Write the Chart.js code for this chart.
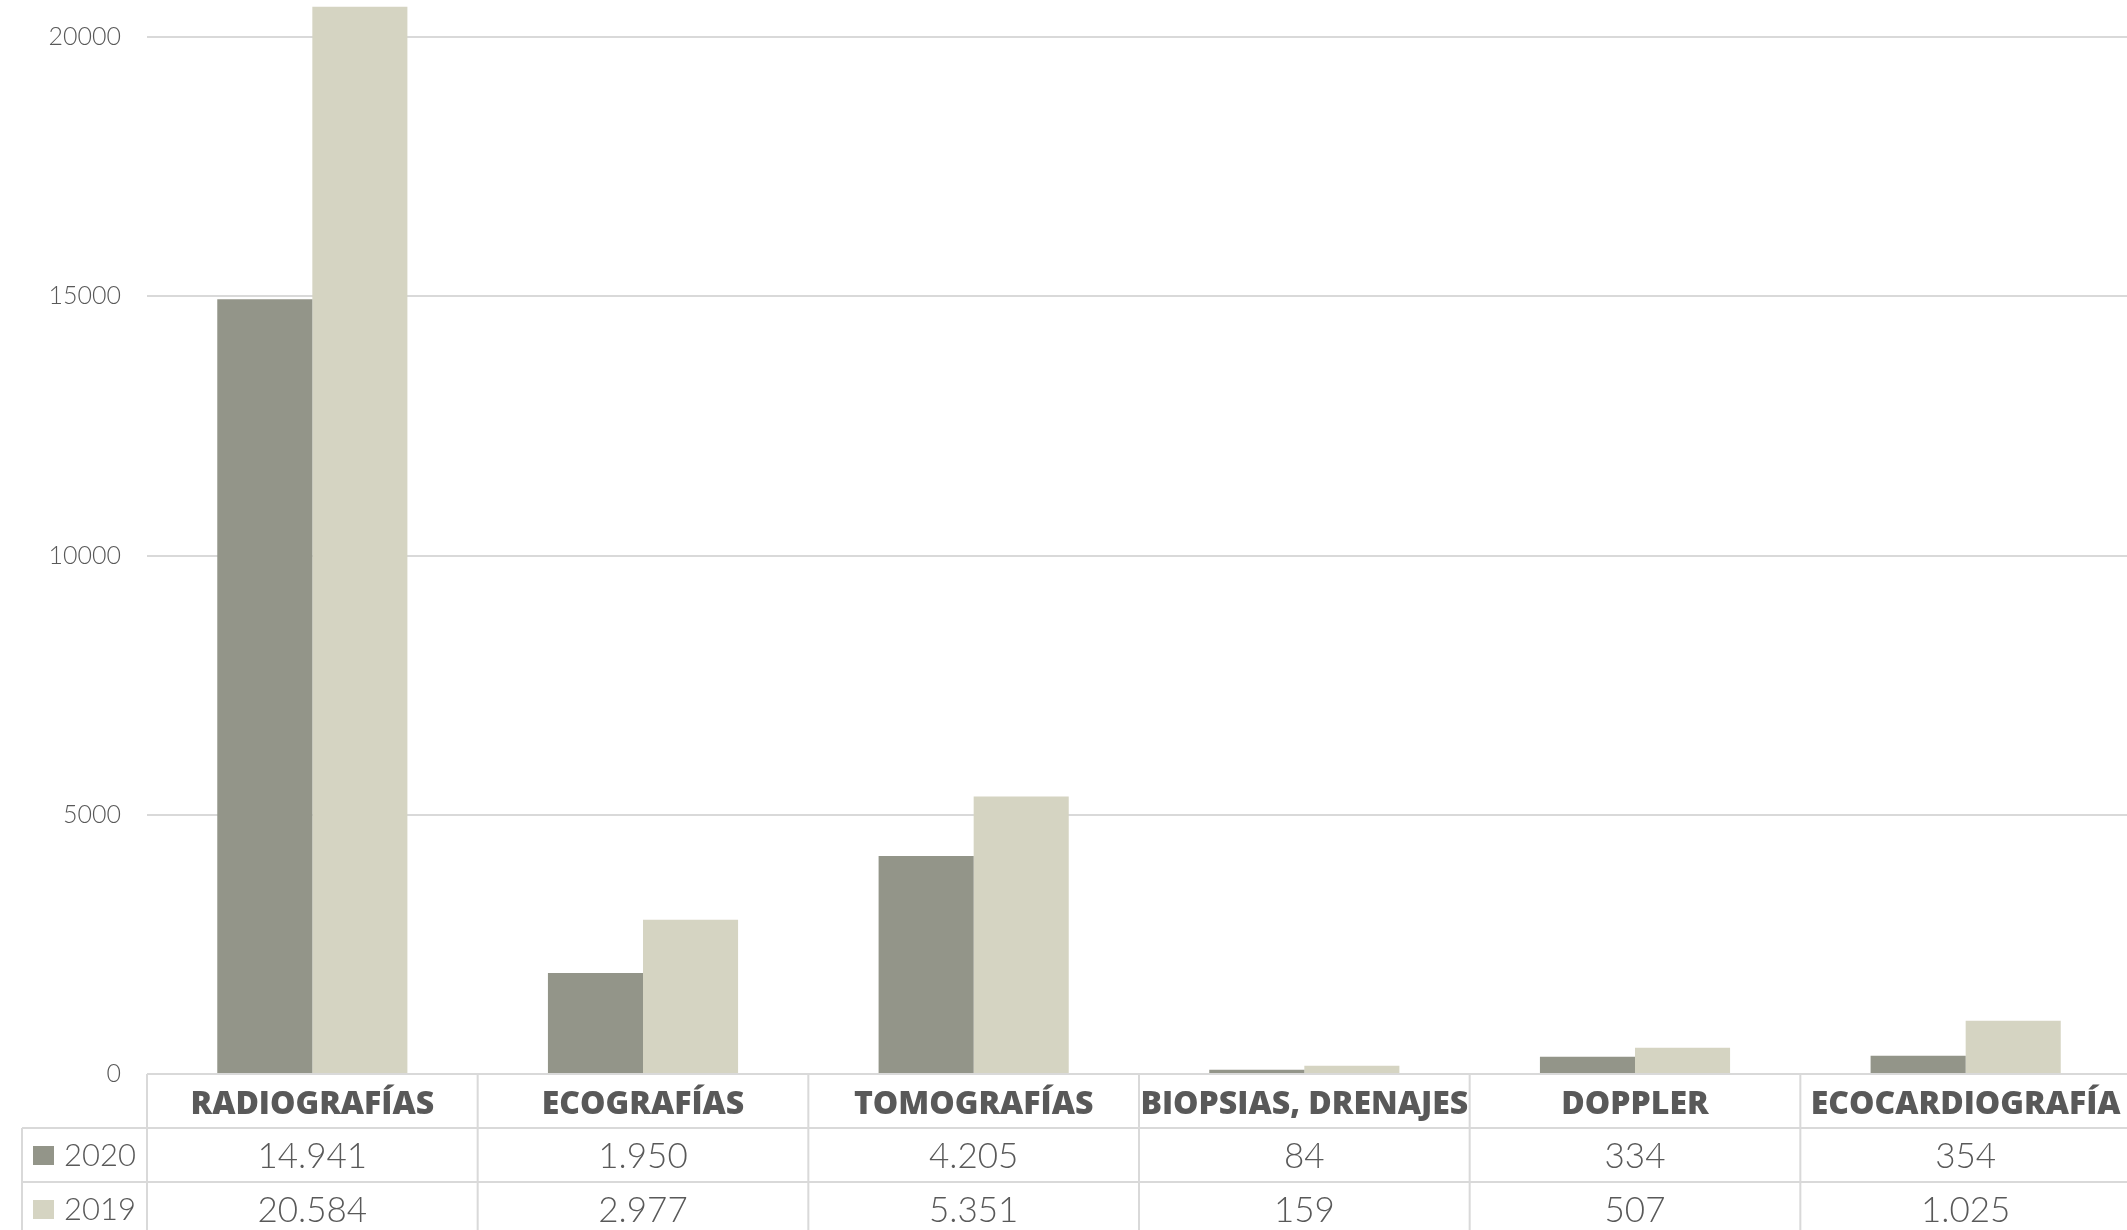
<!DOCTYPE html>
<html>
<head>
<meta charset="utf-8">
<script src="https://cdn.jsdelivr.net/npm/chart.js@4.4.0/dist/chart.umd.min.js"></script>
<style>
    html, body { margin: 0; padding: 0; background: #fff; overflow: hidden; }
    #wrap { width: 2131px; height: 1230px; position: relative; }
</style>
</head>
<body>
<div id="wrap"><canvas id="estudiosChart" width="2131" height="1230"></canvas></div>
<script>
// Datos del gráfico
const categories = ['RADIOGRAFÍAS', 'ECOGRAFÍAS', 'TOMOGRAFÍAS', 'BIOPSIAS, DRENAJES', 'DOPPLER', 'ECOCARDIOGRAFÍA'];
const seriesNames = ['2020', '2019'];
const values2020 = [14941, 1950, 4205, 84, 334, 354];
const values2019 = [20584, 2977, 5351, 159, 507, 1025];
const yTicks = [0, 5000, 10000, 15000, 20000];

const colors = ['#939589', '#d5d4c2'];
const textColor = '#595959';
const lineColor = '#d9d9d9';

// 14941 -> "14.941"
function formatNumber(n) {
    return n.toString().replace(/\B(?=(\d{3})+(?!\d))/g, '.');
}

// Tabla de datos debajo del gráfico
const dataTable = {
    id: 'dataTable',
    afterDraw(chart) {
        const ctx = chart.ctx;
        const area = chart.chartArea;
        const x = chart.scales.x;
        const top = area.bottom;
        const rowH = 54;
        const bottom = chart.height;
        const colW = x.width / categories.length;
        const legendLeft = 22;

        ctx.save();
        ctx.strokeStyle = lineColor;
        ctx.lineWidth = 2;
        ctx.beginPath();
        ctx.moveTo(area.left, top);
        ctx.lineTo(area.right, top);
        for (let r = 1; r <= 2; r++) {
            ctx.moveTo(legendLeft, top + r * rowH);
            ctx.lineTo(area.right, top + r * rowH);
        }
        for (let k = 0; k <= categories.length; k++) {
            const px = area.left + k * colW;
            ctx.moveTo(px, top);
            ctx.lineTo(px, bottom);
        }
        ctx.moveTo(legendLeft, top + rowH);
        ctx.lineTo(legendLeft, bottom);
        ctx.stroke();

        ctx.fillStyle = textColor;
        ctx.textAlign = 'center';
        ctx.textBaseline = 'middle';
        ctx.font = '800 32px "Open Sans"';
        categories.forEach((c, i) => {
            ctx.fillText(c, x.getPixelForValue(i), top + rowH / 2 + 4);
        });

        const rows = [values2020, values2019];
        rows.forEach((row, r) => {
            const cy = top + rowH * (r + 1.5);
            ctx.fillStyle = chart.data.datasets[r].backgroundColor;
            ctx.fillRect(33, cy - 9, 21, 19);
            ctx.fillStyle = textColor;
            ctx.textAlign = 'left';
            ctx.font = '300 31px "Lato"';
            ctx.fillText(seriesNames[r], 64, cy + 1);
            ctx.textAlign = 'center';
            ctx.font = '300 35px "Lato"';
            row.forEach((v, i) => {
                ctx.fillText(formatNumber(v), x.getPixelForValue(i), cy + 2);
            });
        });
        ctx.restore();
    }
};

new Chart(document.getElementById('estudiosChart'), {
    type: 'bar',
    data: {
        labels: categories,
        datasets: [{
            label: seriesNames[0],
            data: values2020,
            backgroundColor: colors[0],
            categoryPercentage: 0.575,
            barPercentage: 1
        }, {
            label: seriesNames[1],
            data: values2019,
            backgroundColor: colors[1],
            categoryPercentage: 0.575,
            barPercentage: 1
        }]
    },
    options: {
        responsive: false,
        animation: false,
        devicePixelRatio: 1,
        layout: {
            padding: { top: 0, right: 0, bottom: 156, left: 0 }
        },
        scales: {
            x: {
                display: false
            },
            y: {
                min: 0,
                max: 20714,
                border: { display: false },
                grid: {
                    color: lineColor,
                    lineWidth: 2,
                    drawTicks: false
                },
                ticks: {
                    padding: 26,
                    color: textColor,
                    font: { family: 'Lato', size: 25, weight: 300 },
                    callback: function (value) {
                        return String(value);
                    }
                },
                afterBuildTicks: function (scale) {
                    scale.ticks = yTicks.map(v => ({ value: v }));
                },
                afterFit: function (scale) {
                    scale.width = 147;
                    scale.paddingTop = 0;
                    scale.paddingBottom = 0;
                }
            }
        },
        plugins: {
            legend: { display: false },
            tooltip: { enabled: false }
        }
    },
    plugins: [dataTable]
});
</script>
</body>
</html>
